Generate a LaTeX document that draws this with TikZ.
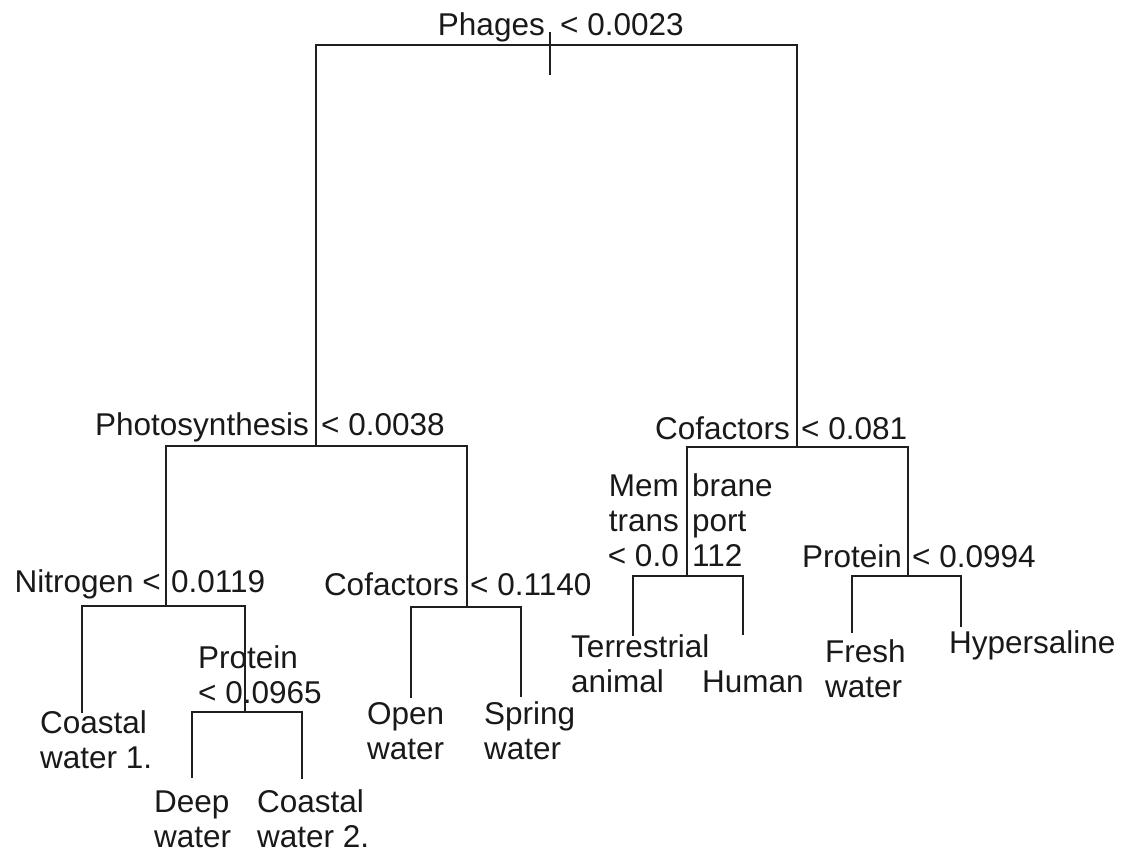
\documentclass[tikz,border=0pt]{standalone}
\usepackage{fontspec}
\setmainfont{Liberation Sans}
\usepackage{xcolor}
\usepackage{tikz}

\begin{document}
\begin{tikzpicture}[
    x=1pt, y=-1pt,
    lbl/.style={font=\fontsize{31.5}{35}\selectfont, inner sep=0pt, text=black!90},
    lside/.style={lbl, anchor=base east, align=right},
    rside/.style={lbl, anchor=base west, align=left},
    branch/.style={draw=black!88, line width=2pt}
]
\useasboundingbox (0,0) rectangle (1124,856);

% Split points
\coordinate (phages) at (550,45);
\coordinate (photo) at (316,446);
\coordinate (cofa) at (797,447);
\coordinate (nitro) at (166,606);
\coordinate (cofb) at (467,607);
\coordinate (memb) at (687,576);
\coordinate (protb) at (908,576);
\coordinate (prota) at (245,712);

% Leaf ends
\coordinate (cw1) at (82,713);
\coordinate (dw) at (192,778);
\coordinate (cw2) at (302,779);
\coordinate (ow) at (411,698);
\coordinate (sw) at (521,697);
\coordinate (ta) at (633,636);
\coordinate (hu) at (743,635);
\coordinate (fw) at (852,633);
\coordinate (hy) at (961,627);

% Split labels (base = last line)
\node[lside] (phgL) at (545,36) {Phages};
\node[rside] (phgR) at (560,36) {< 0.0023};
\node[lside] (phoL) at (309,435) {Photosynthesis};
\node[rside] (phoR) at (321,435) {< 0.0038};
\node[lside] (cofaL) at (790,439) {Cofactors};
\node[rside] (cofaR) at (801,439) {< 0.081};
\node[lside] (nitL) at (161,592) {Nitrogen <};
\node[rside] (nitR) at (171,592) {0.0119};
\node[lside] (cofbL) at (459,595) {Cofactors};
\node[rside] (cofbR) at (470,595) {< 0.1140};
\node[lside] (memL) at (679,566) {Mem\\trans\\< 0.0};
\node[rside] (memR) at (692,566) {brane\\port\\112};
\node[lside] (prbL) at (902,567) {Protein};
\node[rside] (prbR) at (912,567) {< 0.0994};
\node[rside] (praT) at (198,703) {Protein\\< 0.0965};

% Leaves
\node[rside] (coast1) at (40,768) {Coastal\\water 1.};
\node[rside] (deep) at (154,847) {Deep\\water};
\node[rside] (coast2) at (257,847) {Coastal\\water 2.};
\node[rside] (open) at (367,759) {Open\\water};
\node[rside] (spring) at (484,759) {Spring\\water};
\node[rside] (terr) at (571,692) {Terrestrial\\animal};
\node[rside] (human) at (702,692) {Human};
\node[rside] (fresh) at (825,697) {Fresh\\water};
\node[rside] (hyper) at (949,653) {Hypersaline};

% Branches
\draw[branch] ([yshift=13pt]phages) -- ([yshift=-30pt]phages);
\draw[branch] (photo) |- (phages) -| (cofa);
\draw[branch] (nitro) |- (photo) -| (cofb);
\draw[branch] (memb) |- (cofa) -| (protb);
\draw[branch] (cw1) |- (nitro) -| (prota);
\draw[branch] (dw) |- (prota) -| (cw2);
\draw[branch] (ow) |- (cofb) -| (sw);
\draw[branch] (ta) |- (memb) -| (hu);
\draw[branch] (fw) |- (protb) -| (hy);

\end{tikzpicture}
\end{document}
